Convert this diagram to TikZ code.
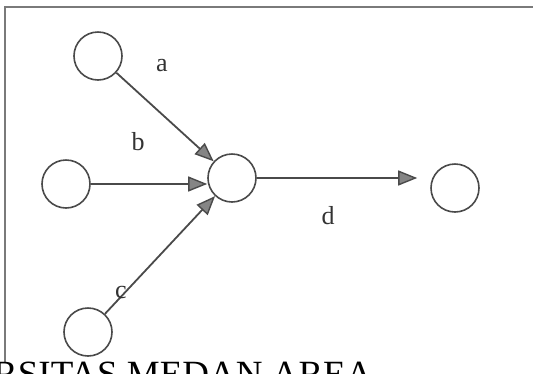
\documentclass[tikz,border=0pt]{standalone}
\usepackage{fontspec}
\setmainfont{Liberation Serif}
\usepackage{tikz}
\usetikzlibrary{arrows.meta}
\definecolor{ink}{HTML}{4A4A4A}
\definecolor{tipfill}{HTML}{858585}
\definecolor{rule}{HTML}{7A7A7A}
\tikzset{
  unit/.style={circle, draw=ink, line width=1.6pt, minimum size=48pt, inner sep=0pt},
  link/.style={-{Triangle[length=19pt, width=15pt, fill=tipfill, line width=1.4pt]}, draw=ink, line width=1.8pt},
  lbl/.style={font=\fontsize{26}{28}\selectfont, text=black!80, inner sep=0pt},
  frame/.style={draw=rule, line width=1.5pt},
}
\begin{document}
\begin{tikzpicture}[x=1pt,y=-1pt]
  \useasboundingbox (0,0) rectangle (533,373);
  % frame and footer
  \draw[frame] (5,362) -- (5,7) -- (533,7);
  \node[anchor=base west, inner sep=0pt, font=\fontsize{37}{40}\selectfont] (foot) at (-7,386) {RSITAS MEDAN AREA};
  % units
  \node[unit] (ina) at (98,56) {};
  \node[unit] (inb) at (66,184) {};
  \node[unit] (inc) at (88,332) {};
  \node[unit] (ctr) at (232,178) {};
  \node[unit] (out) at (455,188) {};
  % connections
  \draw[link] (ina) -- (ctr);
  \draw[link] (inb) -- (inb -| ctr.west);
  \draw[link] (inc) -- (ctr);
  \draw[link, shorten >=13pt] (ctr.east) -- (ctr.east -| out.west);
  % weights
  \node[lbl] (la) at (162,66) {a};
  \node[lbl] (lb) at (138,142) {b};
  \node[lbl] (lc) at (121,292) {c};
  \node[lbl] (ld) at (328,216) {d};
\end{tikzpicture}
\end{document}
